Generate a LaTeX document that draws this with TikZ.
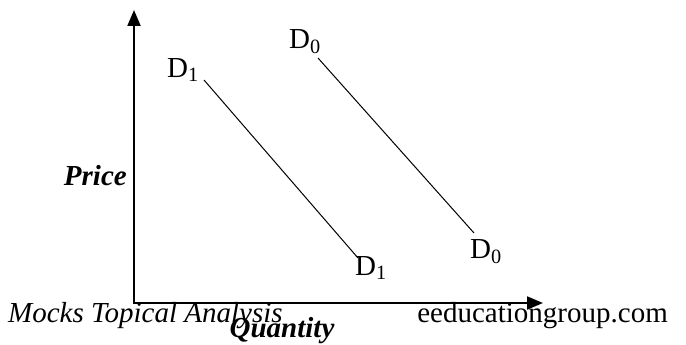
\documentclass[tikz,border=0pt]{standalone}
\usepackage{fontspec}
\setmainfont{Liberation Serif}
\usetikzlibrary{arrows.meta}
\begin{document}
\begin{tikzpicture}[x=1pt,y=-1pt,
  axis/.style={line width=2pt,-{Triangle[length=16pt,width=13pt]}},
  curve/.style={line width=1pt},
  lbl/.style={font=\fontsize{29}{30}\selectfont,inner sep=0pt},
  blbl/.style={font=\fontsize{29}{30}\selectfont\bfseries\itshape,inner sep=0pt}]
\useasboundingbox (0,0) rectangle (686,345);
\coordinate (O) at (134,303);
\coordinate (Ytop) at (134,10);
\coordinate (Xend) at (543,303);
\draw[axis] (134,304) -- (Ytop);
\draw[axis] (133,303) -- (Xend);
\coordinate (a1) at (204,80);
\coordinate (b1) at (358,258);
\coordinate (a0) at (318,58);
\coordinate (b0) at (474,233);
\draw[curve] (a1) -- (b1);
\draw[curve] (a0) -- (b0);
\node[lbl] (d1t) at (183,70) {D\textsubscript{1}};
\node[lbl] (d0t) at (305,42) {D\textsubscript{0}};
\node[lbl] (d1b) at (371,268) {D\textsubscript{1}};
\node[lbl] (d0b) at (486,252) {D\textsubscript{0}};
\node[blbl,anchor=east] (price) at (127,176) {Price};
\node[blbl] (qty) at (282,331) {Quantity};
\node[lbl,font=\fontsize{29}{30}\selectfont\itshape,anchor=west] (mocks) at (8,316) {Mocks Topical Analysis};
\node[lbl,anchor=east] (site) at (668,316) {eeducationgroup.com};
\end{tikzpicture}
\end{document}
